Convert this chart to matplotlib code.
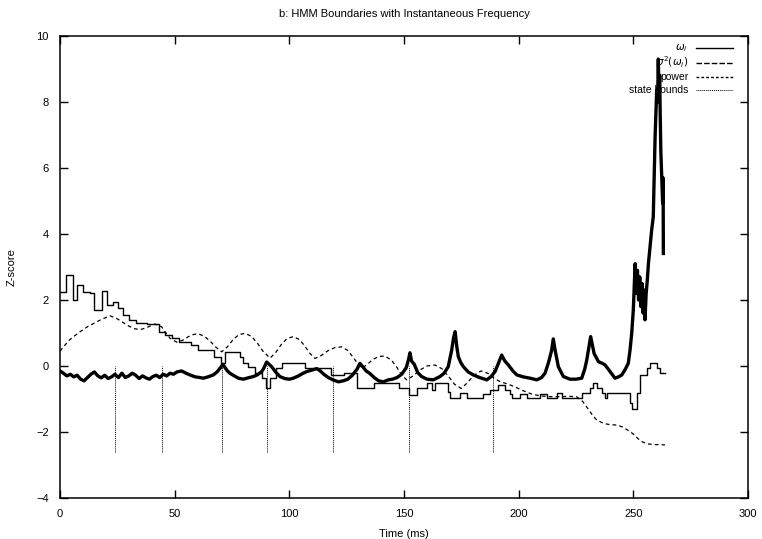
#!/usr/bin/env python3
"""HMM state boundaries over instantaneous frequency, power and variance."""

import matplotlib
matplotlib.use("Agg")
import matplotlib.pyplot as plt

# instantaneous frequency (z-score)
omega_t = [
    0, 1.5, 3, 4.5, 6, 7.5, 9, 10.5, 12, 13.5, 15, 16.5, 18, 19.5, 21, 22.5,
    24, 25.5, 27, 28.5, 30, 31.5, 33, 34.5, 36, 37.5, 39, 40.5, 42, 43.5, 45,
    46.5, 48, 49.5, 51, 53, 55, 57, 59, 61, 62.5, 64.5, 66.9, 68.5, 70, 71,
    72, 73, 74.1, 76, 77.8, 80, 82, 84.3, 86, 88, 89, 90.1, 91.2, 92.3, 94,
    95.9, 98, 100, 101.7, 104, 106, 107.6, 110, 112, 113.5, 115, 117, 119,
    121.4, 123.5, 125.5, 127.5, 129.5, 130.8, 132, 133.5, 135, 137, 139, 141,
    143.2, 145, 147, 149, 151, 152, 152.6, 153.3, 154.5, 156, 157.7, 160,
    162.8, 165.7, 167.5, 169.3, 170.8, 171.6, 172.3, 173, 173.7, 174.8, 175.9,
    178, 180.2, 183, 186.1, 188, 189.7, 191, 192.6, 194, 195.5, 197.5, 199.2,
    202, 205, 207.9, 210, 211.5, 213, 214.4, 215.1, 215.9, 217.3, 219.5,
    222.4, 225, 227.5, 228.8, 229.7, 230.6, 231.4, 232.1, 232.9, 234.8, 236.5,
    237.7, 239.9, 242, 243.5, 245, 246.5, 247.8, 248.6, 249.3, 250, 250.5,
    250.8, 251.3, 251.8, 252.3, 252.8, 253.3, 253.8, 254.3, 254.8, 255.1,
    255.6, 256.1, 256.6, 257.3, 258, 258.7, 259.1, 259.5, 259.9, 260.2, 260.6,
    260.9, 261.2, 261.5, 261.7, 262.0, 262.4, 262.8, 263.0, 263.1,
]
omega_z = [
    -0.15, -0.22, -0.30, -0.25, -0.33, -0.28, -0.40, -0.45, -0.35, -0.25,
    -0.18, -0.30, -0.36, -0.28, -0.38, -0.33, -0.25, -0.35, -0.22, -0.35,
    -0.30, -0.22, -0.28, -0.38, -0.30, -0.36, -0.40, -0.32, -0.28, -0.35,
    -0.25, -0.30, -0.22, -0.25, -0.18, -0.15, -0.22, -0.28, -0.33, -0.35,
    -0.37, -0.33, -0.27, -0.18, -0.05, 0.05, -0.05, -0.15, -0.22, -0.30,
    -0.37, -0.40, -0.36, -0.32, -0.27, -0.17, -0.05, 0.12, 0.05, -0.02,
    -0.18, -0.32, -0.38, -0.40, -0.37, -0.30, -0.22, -0.17, -0.12, -0.08,
    -0.15, -0.25, -0.35, -0.42, -0.48, -0.45, -0.40, -0.28, -0.10, 0.08,
    -0.02, -0.15, -0.22, -0.35, -0.45, -0.48, -0.42, -0.40, -0.35, -0.25,
    -0.05, 0.20, 0.40, 0.15, 0.05, -0.20, -0.32, -0.40, -0.42, -0.32, -0.22,
    -0.02, 0.48, 0.85, 1.04, 0.60, 0.28, 0.10, -0.02, -0.18, -0.27, -0.35,
    -0.42, -0.32, -0.17, 0.05, 0.33, 0.15, 0.03, -0.15, -0.27, -0.33, -0.37,
    -0.42, -0.35, -0.22, 0.10, 0.48, 0.82, 0.48, -0.02, -0.32, -0.40, -0.40,
    -0.37, -0.10, 0.18, 0.55, 0.89, 0.65, 0.38, 0.13, 0.08, 0.03, -0.17,
    -0.37, -0.33, -0.27, -0.10, 0.08, 0.50, 0.99, 1.70, 2.6, 3.1, 2.2, 2.9,
    2.0, 2.7, 1.8, 2.5, 1.6, 2.3, 1.4, 2.2, 2.6, 3.11, 3.6, 4.12, 4.52, 5.8,
    6.95, 7.8, 8.36, 8.0, 9.3, 8.2, 8.8, 7.76, 6.5, 5.74, 4.93, 5.7, 3.41,
]

# windowed variance of the frequency, a step series
var_t = [
    0, 2.5, 5.5, 7.5, 10, 13, 15, 18.5, 20.5, 23, 25.5, 27.5, 30, 33, 38, 43,
    46, 49, 52, 57, 60, 67, 70.3, 71.8, 78.5, 80, 82, 85, 88, 89.8, 91.5, 94,
    96.8, 106.8, 118, 124, 129.4, 136.8, 148, 152, 155.5, 160, 162.1, 163.5,
    169, 170.1, 174.4, 177.4, 184.6, 187.5, 191.1, 194.1, 196.2, 197.1,
    200.6, 203.5, 209.3, 212.2, 216.6, 218.8, 227.5, 231.1, 232.4, 234,
    236.2, 237.7, 238.4, 248.6, 249.3, 251.5, 253, 255.9, 257.3, 260.2,
    261.7, 263.8,
]
var_z = [
    2.25, 2.76, 2.0, 2.45, 2.25, 2.2, 1.7, 2.28, 1.85, 1.95, 1.76, 1.55, 1.39,
    1.30, 1.27, 1.04, 0.94, 0.84, 0.74, 0.63, 0.48, 0.28, 0.09, 0.43, 0.28,
    0.08, -0.02, -0.22, -0.36, -0.68, -0.36, -0.07, 0.08, -0.07, -0.27,
    -0.22, -0.68, -0.52, -0.68, -0.88, -0.68, -0.52, -0.73, -0.52, -0.78,
    -0.98, -0.83, -0.98, -0.86, -0.73, -0.58, -0.73, -0.86, -0.98, -0.86,
    -0.98, -0.86, -0.98, -0.83, -0.98, -0.83, -0.68, -0.52, -0.68, -0.83,
    -0.98, -0.83, -1.13, -1.31, -0.82, -0.27, -0.07, 0.08, -0.07, -0.22,
    -0.22,
]

# signal power (z-score)
power_t = [
    0, 2, 4, 6.5, 9, 12, 15, 18, 21.8, 24.5, 27, 30, 32.5, 35, 38, 41.4, 44.3,
    46, 48, 51, 53.5, 56, 58.5, 60.5, 63, 65.5, 68, 70.5, 73, 75.5, 78, 80.7,
    83.5, 86, 88.5, 91.6, 94, 96.5, 99, 101.7, 104.5, 107, 109, 111.2, 114,
    117, 120, 122.9, 125.5, 128, 130, 131.6, 134, 136.5, 139, 141.7, 144.5,
    147, 149, 151.2, 154, 157, 160, 163.5, 166.5, 169.5, 172, 174.9, 177.5,
    180.5, 183.6, 186.5, 189.5, 192, 194.1, 198, 202, 206, 210, 213.7, 218,
    222, 225.3, 228, 230.5, 232.5, 234.1, 237, 240, 242.8, 245, 247, 248.6,
    250.5, 252, 253.7, 256, 259, 263.8,
]
power_z = [
    0.45, 0.62, 0.78, 0.92, 1.05, 1.19, 1.30, 1.41, 1.52, 1.45, 1.34, 1.21,
    1.13, 1.10, 1.17, 1.27, 1.19, 1.02, 0.84, 0.72, 0.78, 0.89, 0.96, 0.97,
    0.90, 0.75, 0.57, 0.43, 0.58, 0.80, 0.95, 0.99, 0.90, 0.70, 0.45, 0.24,
    0.40, 0.65, 0.83, 0.89, 0.80, 0.58, 0.38, 0.23, 0.32, 0.47, 0.56, 0.58,
    0.47, 0.25, 0.05, -0.07, 0.05, 0.20, 0.29, 0.30, 0.18, -0.05, -0.28,
    -0.42, -0.30, -0.12, 0.00, 0.03, -0.08, -0.32, -0.55, -0.68, -0.52,
    -0.28, -0.15, -0.22, -0.38, -0.48, -0.52, -0.62, -0.75, -0.86, -0.91,
    -0.93, -0.93, -0.92, -0.93, -1.08, -1.32, -1.52, -1.64, -1.74, -1.78,
    -1.79, -1.84, -1.92, -1.99, -2.09, -2.20, -2.29, -2.36, -2.38, -2.39,
]

# HMM state boundaries
bounds_t = [24.0, 44.6, 70.8, 90.4, 118.9, 152.3, 188.7]
bounds_lo = -2.6
bounds_hi = 0.0

x_ticks = [0, 50, 100, 150, 200, 250, 300]
y_ticks = [-4, -2, 0, 2, 4, 6, 8, 10]

legend_labels = [r"$\omega_i$", r"$\sigma^2(\omega_i)$", "power", "state bounds"]


def main():
    plt.rcParams["font.family"] = ["Liberation Sans", "DejaVu Sans"]
    plt.rcParams["mathtext.fontset"] = "dejavusans"

    fig = plt.figure(figsize=(7.62, 5.39), dpi=100)
    ax = fig.add_axes([0.0787, 0.0761, 0.9029, 0.8571])

    # Data lines
    ax.plot(omega_t, omega_z, color="black", linewidth=2.4)
    ax.plot(var_t, var_z, color="black", linewidth=1.0, drawstyle="steps-post")
    ax.plot(power_t, power_z, color="black", linewidth=0.9, linestyle=(0, (3, 2.5)))
    ax.vlines(bounds_t, bounds_lo, bounds_hi, color="black", linewidth=0.7,
              linestyles=[(0, (1, 1))])

    # Axes, gnuplot style: mirrored inward ticks
    ax.set_xlim(0, 300)
    ax.set_ylim(-4, 10)
    ax.set_xticks(x_ticks)
    ax.set_yticks(y_ticks)
    ax.tick_params(direction="in", top=True, right=True, length=6, width=1,
                   labelsize=8, pad=8)
    for s in ax.spines.values():
        s.set_linewidth(1.1)

    ax.set_xlabel("Time (ms)", fontsize=8, labelpad=7)
    ax.set_ylabel("Z-score", fontsize=8, labelpad=14)
    ax.set_title("b: HMM Boundaries with Instantaneous Frequency", fontsize=8, pad=14)

    # Legend, right-aligned text left of the line samples
    styles = ["-", (0, (4, 1.5)), (0, (2, 1.5)), (0, (1, 1))]
    widths = [1.0, 1.0, 1.0, 0.7]
    rows = [0.974, 0.942, 0.912, 0.883]
    for label, ls, lw, yy in zip(legend_labels, styles, widths, rows):
        ax.text(0.913, yy, label, transform=ax.transAxes, ha="right",
                va="center", fontsize=7.5)
        ax.plot([0.924, 0.978], [yy, yy], transform=ax.transAxes,
                color="black", linewidth=lw, linestyle=ls)

    fig.savefig("out.png", dpi=100)
    plt.close(fig)


if __name__ == "__main__":
    main()
